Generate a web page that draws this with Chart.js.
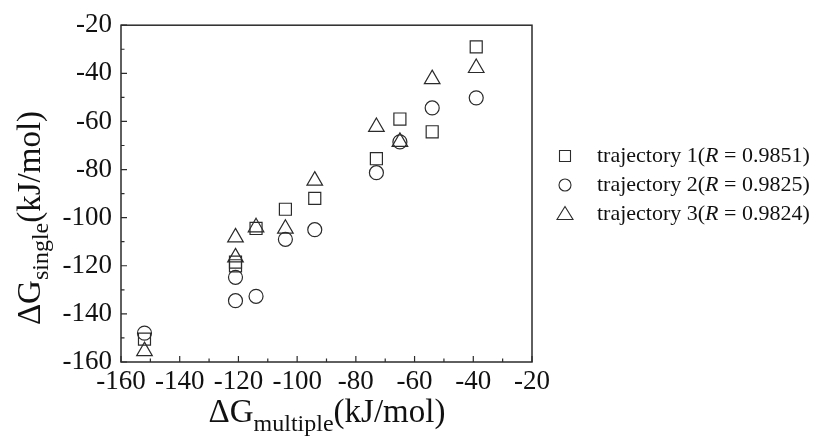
<!DOCTYPE html>
<html>
<head>
<meta charset="utf-8">
<script src="https://cdn.jsdelivr.net/npm/chart.js@4.4.1/dist/chart.umd.min.js"></script>
<style>
  html, body { margin: 0; padding: 0; background: #fff; }
  #wrap { position: relative; width: 818px; height: 439px; }
</style>
</head>
<body>
<div id="wrap"><canvas id="chart"></canvas></div>
<script>
// values (kJ/mol)
const xMultiple = [-152, -121, -121, -114, -104, -94, -73, -65, -54, -39];
const traj1 = [-150.5, -118.5, -120, -104.5, -96.5, -92, -75.5, -59, -64.3, -29];
const traj2 = [-148, -124.8, -134.5, -132.7, -109, -105, -81.3, -68.5, -54.4, -50.2];
const traj3 = [-155.5, -108.2, -116.5, -104, -104.6, -84.6, -62.3, -68.5, -42.4, -37.8];
const legendLabels = ['trajectory 1(', 'trajectory 2(', 'trajectory 3('];
const rValues = ['0.9851', '0.9825', '0.9824'];
const axisTicks = [-160, -140, -120, -100, -80, -60, -40, -20];

const ink = '#2b2b2b';
const serif = '"Liberation Serif", "Times New Roman", serif';

function toPoints(ys) {
    return xMultiple.map((x, i) => ({ x: x, y: ys[i] }));
}

// frame, inward ticks, axis titles and legend
const decorations = {
    id: 'decorations',
    afterDraw(chart) {
        const ctx = chart.ctx;
        const a = chart.chartArea;
        const xs = chart.scales.x, ys = chart.scales.y;
        ctx.save();
        ctx.strokeStyle = ink;
        ctx.lineWidth = 1.5;
        ctx.strokeRect(a.left, a.top, a.right - a.left, a.bottom - a.top);

        ctx.lineWidth = 1.2;
        ctx.beginPath();
        for (let v = -160; v <= -20; v += 10) {
            const len = (v % 20 === 0) ? 6 : 3.5;
            const px = xs.getPixelForValue(v);
            ctx.moveTo(px, a.bottom); ctx.lineTo(px, a.bottom - len);
            const py = ys.getPixelForValue(v);
            ctx.moveTo(a.left, py); ctx.lineTo(a.left + len, py);
        }
        ctx.stroke();

        ctx.fillStyle = '#111';
        ctx.textBaseline = 'alphabetic';
        const big = '33px ' + serif, small = '24px ' + serif;

        // x title
        ctx.font = big;
        const wD = ctx.measureText('ΔG').width;
        const wK = ctx.measureText('(kJ/mol)').width;
        ctx.font = small;
        const wS = ctx.measureText('multiple').width;
        let x0 = 327 - (wD + wS + wK) / 2;
        ctx.font = big;
        ctx.fillText('ΔG', x0, 422);
        ctx.font = small;
        ctx.fillText('multiple', x0 + wD, 431);
        ctx.font = big;
        ctx.fillText('(kJ/mol)', x0 + wD + wS, 422);

        // y title
        ctx.save();
        ctx.translate(40, 218);
        ctx.rotate(-Math.PI / 2);
        ctx.font = big;
        const yD = ctx.measureText('ΔG').width;
        const yK = ctx.measureText('(kJ/mol)').width;
        ctx.font = small;
        const yS = ctx.measureText('single').width;
        let s0 = -(yD + yS + yK) / 2;
        ctx.font = big;
        ctx.fillText('ΔG', s0, 0);
        ctx.font = small;
        ctx.fillText('single', s0 + yD, 8);
        ctx.font = big;
        ctx.fillText('(kJ/mol)', s0 + yD + yS, 0);
        ctx.restore();

        // legend
        const rows = [156, 185, 214];
        chart.data.datasets.forEach((ds, i) => {
            const cy = rows[i], cx = 565;
            ctx.strokeStyle = ink;
            ctx.lineWidth = 1.1;
            ctx.beginPath();
            if (ds.pointStyle === 'rect') ctx.rect(cx - 5.5, cy - 5.5, 11, 11);
            else if (ds.pointStyle === 'circle') ctx.arc(cx, cy, 6, 0, Math.PI * 2);
            else { ctx.moveTo(cx, cy - 7.5); ctx.lineTo(cx + 8, cy + 5.5); ctx.lineTo(cx - 8, cy + 5.5); ctx.closePath(); }
            ctx.stroke();
            ctx.textBaseline = 'middle';
            let tx = 597;
            ctx.font = '22px ' + serif;
            ctx.fillText(legendLabels[i], tx, cy);
            tx += ctx.measureText(legendLabels[i]).width;
            ctx.font = 'italic 22px ' + serif;
            ctx.fillText('R', tx, cy);
            tx += ctx.measureText('R').width;
            ctx.font = '22px ' + serif;
            ctx.fillText(' = ' + rValues[i] + ')', tx, cy);
        });
        ctx.restore();
    }
};

new Chart(document.getElementById('chart'), {
    type: 'scatter',
    data: {
        datasets: [{
            label: 'trajectory 1',
            data: toPoints(traj1),
            pointStyle: 'rect',
            pointRadius: 8.5,
            borderColor: ink,
            backgroundColor: 'rgba(0,0,0,0)',
            borderWidth: 1.2
        }, {
            label: 'trajectory 2',
            data: toPoints(traj2),
            pointStyle: 'circle',
            pointRadius: 7,
            borderColor: ink,
            backgroundColor: 'rgba(0,0,0,0)',
            borderWidth: 1.2
        }, {
            label: 'trajectory 3',
            data: toPoints(traj3),
            pointStyle: 'triangle',
            pointRadius: 9,
            borderColor: ink,
            backgroundColor: 'rgba(0,0,0,0)',
            borderWidth: 1.2
        }]
    },
    options: {
        responsive: true,
        maintainAspectRatio: false,
        animation: false,
        layout: { padding: { left: 0, right: 286, top: 24, bottom: 0 } },
        plugins: { legend: { display: false }, tooltip: { enabled: false } },
        scales: {
            x: {
                type: 'linear',
                min: -160, max: -20,
                afterFit(scale) { scale.height = 77; },
                afterBuildTicks(scale) { scale.ticks = axisTicks.map(v => ({ value: v })); },
                grid: { display: false, drawTicks: false },
                border: { display: false },
                ticks: { color: '#111', padding: 4, maxRotation: 0, autoSkip: false,
                    font: { family: serif, size: 27 } }
            },
            y: {
                type: 'linear',
                min: -160, max: -20,
                afterFit(scale) { scale.width = 121; },
                afterBuildTicks(scale) { scale.ticks = axisTicks.map(v => ({ value: v })); },
                grid: { display: false, drawTicks: false },
                border: { display: false },
                ticks: { color: '#111', padding: 9, autoSkip: false,
                    font: { family: serif, size: 27 } }
            }
        }
    },
    plugins: [decorations]
});
</script>
</body>
</html>
